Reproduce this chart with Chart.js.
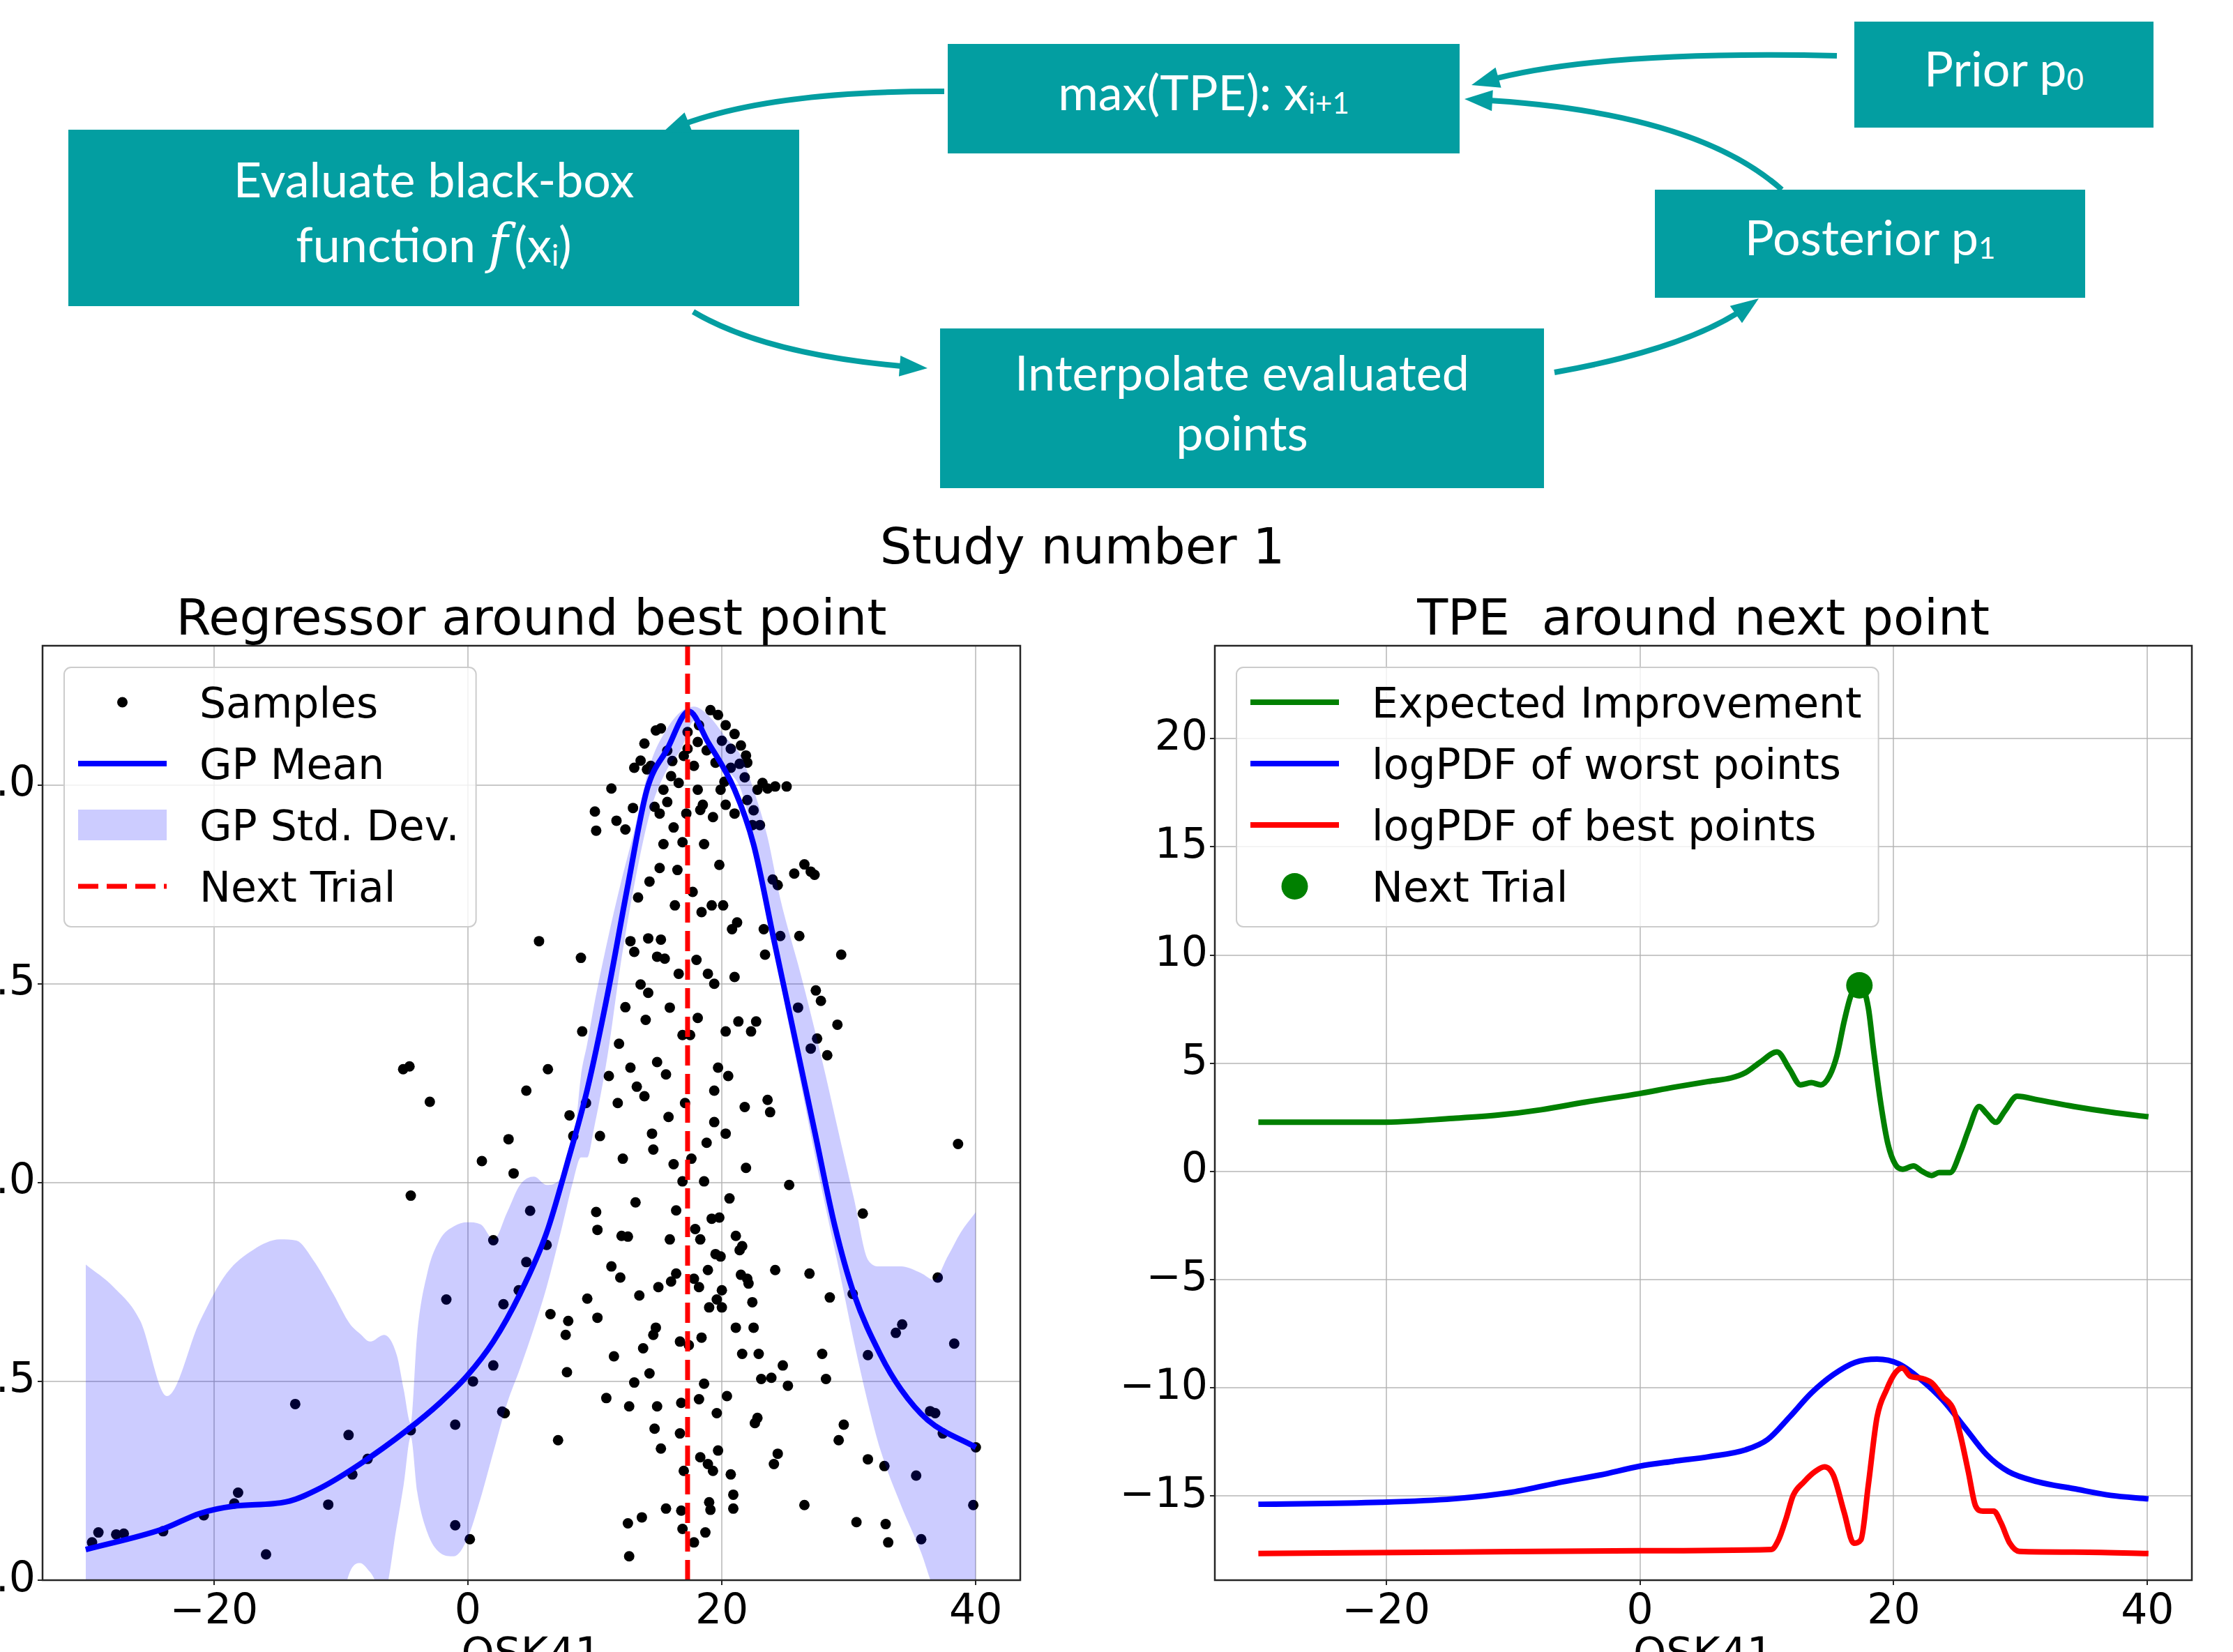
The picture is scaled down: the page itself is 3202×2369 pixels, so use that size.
<!DOCTYPE html>
<html lang="en">
<head>
<meta charset="utf-8">
<script src="https://cdn.jsdelivr.net/npm/chart.js@4.4.1/dist/chart.umd.min.js"></script>
<title>Study number 1</title>
<style>
  html, body { margin: 0; padding: 0; background: #fff; }
  body { width: 3202px; height: 2369px; overflow: hidden; position: relative; }
  .box { position: absolute; background: #039ea1; color: #fff; font-family: Lato, "Noto Sans", sans-serif;
         font-size: 70px; display: flex; align-items: center; justify-content: center; text-align: center; }
  .box div { line-height: 93px; white-space: nowrap; position: relative; top: -10px; }
  .box sub { font-size: 60%; vertical-align: -0.12em; line-height: 0; }
  .box i { font-family: "DejaVu Serif", serif; font-style: italic; font-size: 110%; }
  canvas { position: absolute; }
  svg { position: absolute; left: 0; top: 0; }
</style>
</head>
<body>

<div class="box" style="left:1359px; top:63px; width:734px; height:157px;"><div>max(TPE): x<sub>i+1</sub></div></div>
<div class="box" style="left:2659px; top:31px; width:429px; height:152px;"><div>Prior p<sub>0</sub></div></div>
<div class="box" style="left:98px; top:186px; width:1048px; height:253px;"><div>Evaluate black-box<br>function <i>f</i>&thinsp;(x<sub>i</sub>)</div></div>
<div class="box" style="left:2373px; top:272px; width:617px; height:155px;"><div>Posterior p<sub>1</sub></div></div>
<div class="box" style="left:1348px; top:471px; width:866px; height:229px;"><div style="line-height:86px;">Interpolate evaluated<br>points</div></div>

<svg id="arrows" width="3202" height="900"></svg>

<canvas id="leftChart" width="1640" height="1640" style="left:-140px; top:780px;"></canvas>
<canvas id="rightChart" width="1642" height="1640" style="left:1560px; top:780px;"></canvas>

<script>
// ---- left panel: GP regressor ----
const leftYTicks = [0, 0.5, 1.0, 1.5, 2.0];
const leftYRange = [0, 2.35];
const xTicks = [-20, 0, 20, 40];
const xRange = [-33.5, 43.5];
const nextTrialX = 17.3;

const meanX = [-30.1, -24.0, -21.1, -18.5, -14.3, -11.6, -8.5, -4.8, -2.2, -0.06, 2.0, 4.1, 6.2, 7.8, 9.4, 11.0, 12.6, 14.1, 15.7, 17.4, 18.9, 21.0, 22.5, 24.1, 25.7, 27.3, 28.9, 30.4, 32.5, 34.1, 36.2, 40.0];
const meanY = [0.077, 0.129, 0.168, 0.186, 0.197, 0.232, 0.292, 0.377, 0.446, 0.514, 0.6, 0.72, 0.874, 1.046, 1.234, 1.474, 1.748, 1.988, 2.09, 2.185, 2.108, 1.988, 1.85, 1.61, 1.371, 1.13, 0.89, 0.72, 0.566, 0.48, 0.403, 0.334];

const bandX = [-30.1, -27.9, -25.8, -23.7, -21.1, -19.0, -16.9, -14.8, -13.5, -12.2, -10.6, -9.3, -8.5, -7.7, -6.6, -5.6, -5.06, -4.5, -4.0, -3.2, -2.2, -1.1, -0.06, 1.0, 2.04, 3.1, 4.1, 5.2, 6.2, 7.3, 8.35, 8.9, 9.4, 9.9, 11.0, 12.0, 13.1, 14.4, 15.7, 16.8, 17.8, 18.9, 20.4, 21.5, 22.5, 23.6, 24.6, 26.2, 27.8, 29.4, 30.4, 31.5, 32.5, 34.1, 35.7, 36.7, 37.8, 38.8, 40.0];
const bandUpper = [0.794, 0.737, 0.652, 0.463, 0.652, 0.772, 0.831, 0.857, 0.854, 0.806, 0.72, 0.645, 0.62, 0.6, 0.617, 0.566, 0.48, 0.395, 0.617, 0.772, 0.857, 0.89, 0.9, 0.895, 0.857, 0.926, 0.994, 1.015, 0.994, 1.011, 1.097, 1.268, 1.35, 1.44, 1.61, 1.748, 1.885, 2.056, 2.142, 2.185, 2.197, 2.176, 2.116, 2.074, 1.988, 1.868, 1.714, 1.525, 1.32, 1.097, 0.96, 0.806, 0.789, 0.789, 0.772, 0.755, 0.815, 0.874, 0.926];
const bandLower = [-0.6, -0.5, -0.35, -0.18, -0.3, -0.4, -0.45, -0.46, -0.44, -0.35, -0.15, 0.02, 0.043, 0.02, -0.03, 0.137, 0.24, 0.36, 0.223, 0.12, 0.069, 0.06, 0.103, 0.206, 0.326, 0.446, 0.532, 0.634, 0.737, 0.874, 1.011, 1.063, 1.063, 1.131, 1.32, 1.543, 1.748, 1.937, 2.04, 2.09, 2.16, 2.108, 2.04, 1.988, 1.868, 1.697, 1.508, 1.251, 0.994, 0.755, 0.6, 0.446, 0.326, 0.189, 0.069, -0.02, -0.05, -0.05, -0.03];

const samplePts = [
  [-29.6,0.095],[-29.1,0.12],[-27.7,0.115],[-27.1,0.117],[-24.0,0.123],[-20.8,0.163],[-18.4,0.193],[-18.1,0.22],[-15.9,0.065],[-13.6,0.443],
  [-11.0,0.19],[-9.4,0.365],[-9.1,0.266],[-7.9,0.305],[-5.1,1.285],[-4.6,1.292],[-4.5,0.967],[-3.0,1.203],[-4.5,0.377],[-1.7,0.706],
  [-1.0,0.391],[-1.0,0.138],[0.15,0.103],[0.4,0.5],[1.1,1.054],[2.0,0.54],[2.0,0.855],[2.7,0.424],[2.9,0.42],[2.8,0.694],
  [3.2,1.109],[3.6,1.023],[4.0,0.729],[4.6,1.231],[4.6,0.8],[4.9,0.929],[5.6,1.607],[6.2,0.843],[6.3,1.285],[6.5,0.669],
  [7.1,0.352],[7.7,0.617],[7.8,0.523],[7.9,0.652],[8.0,1.169],[8.3,1.117],[8.9,1.565],[9.0,1.38],[9.3,1.2],[9.4,0.708],
  [10.0,1.933],[10.1,1.885],[10.1,0.926],[10.2,0.881],[10.2,0.66],[10.4,1.117],[10.9,0.458],[11.1,1.268],[11.3,1.991],[11.3,0.789],
  [11.5,0.563],[11.7,1.91],[11.8,1.2],[11.9,1.349],[12.0,0.761],[12.1,0.866],[12.4,1.888],[12.4,1.441],[12.6,0.143],[12.6,0.864],
  [12.7,0.437],[12.7,0.06],[12.8,1.607],[12.8,1.289],[13.0,1.942],[13.1,0.497],[13.1,2.043],[13.1,1.58],[13.3,1.241],[13.4,1.717],
  [13.5,0.716],[13.6,1.498],[13.6,2.061],[13.7,0.158],[13.8,0.583],[13.9,2.104],[13.9,1.217],[14.0,1.409],[14.1,2.039],[14.2,1.477],
  [14.2,1.614],[14.3,1.757],[14.4,2.048],[14.5,1.123],[14.6,1.083],[14.6,0.617],[14.7,1.945],[14.7,0.381],[14.8,0.635],[14.8,2.137],
  [14.9,0.437],[14.9,1.568],[14.9,1.303],[15.0,0.737],[15.1,1.791],[15.2,2.142],[15.2,1.611],[15.2,0.331],[15.4,1.988],[15.4,1.851],
  [15.5,1.563],[15.6,1.272],[15.7,2.086],[15.7,1.957],[15.8,1.165],[15.9,0.857],[15.9,1.44],[16.0,0.751],[16.1,2.06],[16.2,1.893],
  [16.2,1.046],[16.3,1.697],[16.4,0.771],[16.5,1.786],[16.6,2.005],[16.6,1.525],[16.7,0.6],[16.7,0.369],[16.8,0.446],[16.8,0.175],
  [16.9,0.129],[16.9,1.003],[16.9,1.856],[16.9,1.371],[17.0,0.275],[17.1,1.2],[17.2,1.928],[17.3,2.133],[17.4,0.591],[17.5,1.371],
  [17.7,1.731],[17.8,0.095],[17.8,0.758],[17.8,2.048],[17.9,0.883],[18.0,1.56],[18.1,1.988],[18.1,1.414],[18.2,0.455],[18.2,0.737],
  [18.3,0.309],[18.3,0.857],[18.4,1.68],[18.5,1.95],[18.6,0.494],[18.6,1.003],[18.6,1.851],[18.7,0.12],[18.8,1.1],[18.9,0.292],
  [18.9,0.78],[18.9,1.525],[19.0,0.196],[19.0,0.686],[19.1,0.177],[19.2,1.697],[19.2,0.909],[19.3,0.275],[19.4,1.231],[19.4,1.152],
  [19.4,1.5],[19.5,0.82],[19.6,0.706],[19.7,0.326],[19.7,1.289],[19.8,0.912],[19.8,1.799],[19.9,0.814],[20.0,0.729],[20.0,0.686],
  [20.1,1.697],[20.2,2.008],[20.3,1.38],[20.3,1.123],[20.4,0.463],[20.5,1.268],[20.7,0.266],[20.8,1.637],[20.9,0.215],[20.9,0.18],
  [21.0,1.517],[21.1,0.866],[21.1,0.635],[21.2,1.654],[21.3,1.405],[21.4,0.83],[21.5,0.768],[21.6,0.84],[21.6,0.569],[21.9,1.037],
  [22.0,0.758],[22.1,0.746],[22.3,1.38],[22.4,0.699],[22.5,0.635],[22.6,0.395],[22.7,1.405],[22.8,0.408],[22.9,0.569],[23.1,0.506],
  [23.3,1.637],[23.4,1.573],[23.6,1.208],[23.8,1.177],[23.9,0.509],[24.1,0.292],[24.2,0.78],[24.4,0.318],[24.6,1.62],[24.8,0.54],
  [25.2,0.489],[25.3,0.994],[26.0,1.44],[26.1,1.62],[26.5,0.189],[26.9,0.771],[27.0,1.337],[27.4,1.483],[27.5,1.362],[27.8,1.457],
  [27.9,0.569],[28.2,0.506],[28.3,1.32],[28.5,0.711],[29.1,1.397],[29.2,0.352],[29.4,1.573],[29.6,0.391],[30.3,0.72],[30.6,0.146],
  [31.1,0.922],[31.5,0.566],[31.5,0.304],[32.8,0.287],[32.9,0.141],[33.1,0.095],[33.7,0.622],[34.2,0.643],[35.3,0.263],[35.7,0.103],
  [36.4,0.425],[36.8,0.42],[37.0,0.761],[37.4,0.369],[38.3,0.595],[38.6,1.097],[39.8,0.189],[40.0,0.334],
  [19.1,2.188],[19.7,2.176],[18.2,2.15],[20.3,2.15],[21.0,2.128],[21.9,2.074],[21.4,2.053],[20.0,2.111],[18.8,2.087],[17.0,2.073],
  [22.8,1.988],[23.2,2.005],[22.5,1.936],[23.0,1.899],[22.0,1.962],[20.7,2.043],[21.5,2.099],[18.1,2.108],[17.3,2.091],[19.5,2.056],
  [20.3,1.95],[21.0,1.928],[19.3,1.919],[16.0,2.022],[15.1,1.928],[18.3,1.937],[19.9,1.988],[21.8,2.019],[23.6,1.991],[24.2,1.996],
  [25.1,1.996],[22.4,1.899],[22.0,2.056],[20.7,2.091],[24.0,1.762],[24.4,1.748],[25.7,1.777],[26.5,1.8],[27.0,1.782],[27.3,1.774],
  [14.3,0.52],[16.4,0.93],[18.4,0.61],[20.6,0.96],[15.6,0.18],[19.6,0.42],[13.2,0.95],[21.8,1.19],[17.6,1.06],[12.2,1.06]
];

// ---- right panel: TPE ----
const rightYTicks = [-15, -10, -5, 0, 5, 10, 15, 20];
const rightYRange = [-18.9, 24.3];

const eiX = [-30.07, -20.4, -14.7, -11.2, -7.76, -4.31, 0, 2.59, 5.46, 7.19, 8.34, 9.49, 10.81, 11.79, 12.65, 13.51, 14.26, 14.95, 15.53, 16.1, 16.68, 17.42, 18.0, 18.4, 18.98, 19.55, 20.13, 20.7, 21.56, 22.25, 23.0, 23.58, 24.44, 25.3, 25.88, 26.74, 27.31, 28.06, 28.75, 29.73, 31.34, 34.2, 37.09, 40.08];
const eiY = [2.27, 2.27, 2.45, 2.6, 2.85, 3.2, 3.6, 3.88, 4.16, 4.32, 4.57, 5.05, 5.52, 4.73, 4.0, 4.1, 4.0, 4.42, 5.36, 6.94, 8.2, 8.58, 7.57, 5.68, 3.15, 1.26, 0.32, 0.1, 0.25, 0.0, -0.19, -0.06, -0.06, 0.95, 1.89, 3.0, 2.68, 2.27, 2.78, 3.47, 3.31, 3.0, 2.74, 2.52];

const worstX = [-30.07, -20.4, -14.7, -10.06, -6.04, -3.16, 0, 2.59, 5.46, 8.34, 10.06, 11.79, 13.51, 15.24, 16.96, 18.69, 20.41, 22.14, 23.86, 25.59, 27.31, 29.04, 31.34, 34.2, 37.09, 40.08];
const worstY = [-15.39, -15.3, -15.14, -14.83, -14.35, -14.04, -13.63, -13.41, -13.19, -12.87, -12.4, -11.36, -10.25, -9.4, -8.83, -8.68, -8.9, -9.62, -10.57, -11.83, -13.09, -13.88, -14.35, -14.67, -14.98, -15.14];

const bestX = [-30.07, -14.7, 0, 10.35, 10.93, 11.5, 12.08, 12.94, 13.8, 14.55, 15.24, 16.1, 16.85, 17.42, 18.0, 18.69, 19.44, 20.13, 20.7, 21.28, 22.14, 23.0, 23.86, 24.73, 25.3, 25.88, 26.45, 27.03, 27.89, 28.46, 29.15, 29.9, 34.2, 40.08];
const bestY = [-17.67, -17.6, -17.54, -17.48, -17.03, -16.09, -14.98, -14.35, -13.88, -13.66, -14.04, -15.77, -17.19, -17.03, -14.51, -11.36, -10.09, -9.31, -9.09, -9.46, -9.56, -9.78, -10.41, -11.04, -12.3, -13.88, -15.46, -15.71, -15.71, -16.25, -17.19, -17.57, -17.6, -17.67];

const nextTrialY = 8.6;

const leftLegend = ['Samples', 'GP Mean', 'GP Std. Dev.', 'Next Trial'];
const rightLegend = ['Expected Improvement', 'logPDF of worst points', 'logPDF of best points', 'Next Trial'];

const zip = (xs, ys) => xs.map((x, i) => ({x: x, y: ys[i]}));
const minus = v => (v < 0 ? '\u2212' + Math.abs(v) : String(v));

// diagram arrows (quadratic curves, matplotlib-like arrow heads)
const arrows = [
  [2634, 80, 2290, 72, 2110, 122],
  [2555, 272, 2430, 160, 2100, 142],
  [1354, 131, 1100, 130, 950, 190],
  [994, 447, 1100, 510, 1330, 528],
  [2229, 534, 2420, 500, 2522, 428]
];
(function drawArrows() {
  const svg = document.getElementById('arrows');
  const teal = '#039ea1';
  let html = '';
  arrows.forEach(a => {
    const [sx, sy, cx, cy, ex, ey] = a;
    let dx = ex - cx, dy = ey - cy;
    const len = Math.hypot(dx, dy); dx /= len; dy /= len;
    const L = 40, W = 15;
    const bx = ex - dx * L, by = ey - dy * L;
    html += `<path d="M${sx},${sy} Q${cx},${cy} ${ex - dx * 20},${ey - dy * 20}" stroke="${teal}" stroke-width="8" fill="none"/>`;
    html += `<polygon points="${ex},${ey} ${bx - dy * W},${by + dx * W} ${bx + dy * W},${by - dx * W}" fill="${teal}"/>`;
  });
  html += '<text x="1552" y="808" text-anchor="middle" font-family="DejaVu Sans" font-size="72" fill="#000">Study number 1</text>';
  svg.innerHTML = html;
})();

// frame, titles, x label and legend drawn like matplotlib
const mplDecor = {
  id: 'mplDecor',
  afterDraw(chart, args, opts) {
    const ctx = chart.ctx, a = chart.chartArea;
    ctx.save();
    ctx.strokeStyle = '#262626';
    ctx.lineWidth = 2.5;
    ctx.strokeRect(a.left, a.top, a.right - a.left, a.bottom - a.top);

    const cx = (a.left + a.right) / 2;
    ctx.fillStyle = '#000';
    ctx.textAlign = 'center';
    ctx.textBaseline = 'alphabetic';
    ctx.font = '72px "DejaVu Sans"';
    ctx.fillText(opts.title, cx, a.top - 16);
    ctx.font = '60px "DejaVu Sans"';
    ctx.fillText(opts.xLabel, cx, a.bottom + 125);

    // legend
    const lx = a.left + 31, ly = a.top + 31;
    const maxW = Math.max(...opts.items.map(it => ctx.measureText(it.label).width));
    const w = 194 + maxW + 24, h = 372, r = 10;
    ctx.beginPath();
    ctx.moveTo(lx + r, ly);
    ctx.arcTo(lx + w, ly, lx + w, ly + h, r);
    ctx.arcTo(lx + w, ly + h, lx, ly + h, r);
    ctx.arcTo(lx, ly + h, lx, ly, r);
    ctx.arcTo(lx, ly, lx + w, ly, r);
    ctx.closePath();
    ctx.fillStyle = 'rgba(255,255,255,0.8)';
    ctx.fill();
    ctx.strokeStyle = '#cccccc';
    ctx.lineWidth = 2;
    ctx.stroke();

    opts.items.forEach((it, i) => {
      const cy = ly + 50 + i * 88;
      const h0 = lx + 20, h1 = lx + 147, hm = (h0 + h1) / 2;
      ctx.setLineDash([]);
      if (it.kind === 'line' || it.kind === 'dash') {
        ctx.strokeStyle = it.color;
        ctx.lineWidth = it.kind === 'dash' ? 7 : 8;
        if (it.kind === 'dash') ctx.setLineDash([29, 12]);
        ctx.beginPath(); ctx.moveTo(h0, cy); ctx.lineTo(h1, cy); ctx.stroke();
        ctx.setLineDash([]);
      } else if (it.kind === 'patch') {
        ctx.fillStyle = it.color;
        ctx.fillRect(h0, cy - 22, h1 - h0, 44);
      } else {
        ctx.fillStyle = it.color;
        ctx.beginPath(); ctx.arc(hm, cy, it.r, 0, Math.PI * 2); ctx.fill();
      }
      ctx.fillStyle = '#000';
      ctx.textAlign = 'left';
      ctx.fillText(it.label, lx + 194, cy + 22);
    });
    ctx.restore();
  }
};

const tickFont = {family: 'DejaVu Sans', size: 60};

function makeScales(yTicks, yRange, yWidth, yFmt) {
  const grid = {color: 'rgba(176,176,176,0.7)', lineWidth: 2, tickLength: 7, tickColor: '#262626', tickWidth: 2};
  return {
    x: {
      type: 'linear', min: xRange[0], max: xRange[1],
      afterBuildTicks: s => { s.ticks = xTicks.map(v => ({value: v})); },
      afterFit: s => { s.height = 154; },
      ticks: {font: tickFont, color: '#000', padding: 3, maxRotation: 0, autoSkip: false, callback: v => minus(v)},
      grid: grid, border: {display: false}
    },
    y: {
      type: 'linear', min: yRange[0], max: yRange[1],
      afterBuildTicks: s => { s.ticks = yTicks.map(v => ({value: v})); },
      afterFit: s => { s.width = yWidth; },
      ticks: {font: tickFont, color: '#000', padding: 3, autoSkip: false, callback: yFmt},
      grid: grid, border: {display: false}
    }
  };
}

Chart.register(mplDecor);

new Chart(document.getElementById('leftChart'), {
  type: 'line',
  data: {
    datasets: [
      {label: 'Next Trial', data: [{x: nextTrialX, y: leftYRange[0]}, {x: nextTrialX, y: leftYRange[1]}],
       borderColor: '#ff0000', borderWidth: 7, borderDash: [29, 12], pointRadius: 0, order: 0},
      {label: 'GP Std. Dev.', data: zip(bandX, bandUpper), borderColor: 'rgba(0,0,0,0)', borderWidth: 0,
       pointRadius: 0, fill: '+1', backgroundColor: 'rgba(0,0,255,0.2)', cubicInterpolationMode: 'monotone', order: 1},
      {label: 'lower', data: zip(bandX, bandLower), borderColor: 'rgba(0,0,0,0)', borderWidth: 0,
       pointRadius: 0, fill: false, cubicInterpolationMode: 'monotone', order: 1},
      {label: 'GP Mean', data: zip(meanX, meanY), borderColor: '#0000ff', borderWidth: 8, pointRadius: 0,
       cubicInterpolationMode: 'monotone', order: 2},
      {label: 'Samples', data: samplePts.map(p => ({x: p[0], y: p[1]})), showLine: false, pointRadius: 7.5,
       pointBackgroundColor: '#000', pointBorderWidth: 0, order: 3}
    ]
  },
  options: {
    responsive: false, animation: false, devicePixelRatio: 1, events: [],
    layout: {padding: {top: 146, right: 37, left: 0, bottom: 0}},
    scales: makeScales(leftYTicks, leftYRange, 201, v => v.toFixed(1)),
    plugins: {
      legend: {display: false}, tooltip: {enabled: false},
      filler: {propagate: false, drawTime: 'beforeDatasetDraw'},
      mplDecor: {
        title: 'Regressor around best point', xLabel: 'OSK41',
        items: [
          {label: leftLegend[0], kind: 'dot', color: '#000', r: 7.5},
          {label: leftLegend[1], kind: 'line', color: '#0000ff'},
          {label: leftLegend[2], kind: 'patch', color: 'rgba(0,0,255,0.2)'},
          {label: leftLegend[3], kind: 'dash', color: '#ff0000'}
        ]
      }
    }
  }
});

new Chart(document.getElementById('rightChart'), {
  type: 'line',
  data: {
    datasets: [
      {label: 'Next Trial', data: [{x: nextTrialX, y: nextTrialY}], showLine: false, pointRadius: 19,
       pointBackgroundColor: '#008000', pointBorderWidth: 0, order: 0},
      {label: 'logPDF of best points', data: zip(bestX, bestY), borderColor: '#ff0000', borderWidth: 8,
       pointRadius: 0, cubicInterpolationMode: 'monotone', order: 1},
      {label: 'logPDF of worst points', data: zip(worstX, worstY), borderColor: '#0000ff', borderWidth: 8,
       pointRadius: 0, cubicInterpolationMode: 'monotone', order: 2},
      {label: 'Expected Improvement', data: zip(eiX, eiY), borderColor: '#008000', borderWidth: 8,
       pointRadius: 0, cubicInterpolationMode: 'monotone', order: 3}
    ]
  },
  options: {
    responsive: false, animation: false, devicePixelRatio: 1, events: [],
    layout: {padding: {top: 146, right: 59, left: 0, bottom: 0}},
    scales: makeScales(rightYTicks, rightYRange, 182, v => minus(v)),
    plugins: {
      legend: {display: false}, tooltip: {enabled: false},
      mplDecor: {
        title: 'TPE  around next point', xLabel: 'OSK41',
        items: [
          {label: rightLegend[0], kind: 'line', color: '#008000'},
          {label: rightLegend[1], kind: 'line', color: '#0000ff'},
          {label: rightLegend[2], kind: 'line', color: '#ff0000'},
          {label: rightLegend[3], kind: 'dot', color: '#008000', r: 19}
        ]
      }
    }
  }
});
</script>
</body>
</html>
